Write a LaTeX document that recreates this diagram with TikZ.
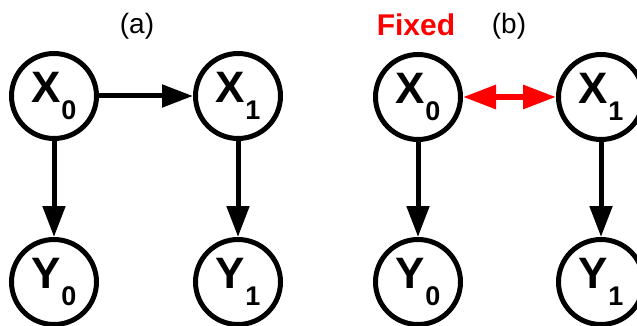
\documentclass[tikz,border=0pt]{standalone}
\usepackage{fontspec}
\setmainfont{Liberation Sans}
\usetikzlibrary{arrows.meta}
\definecolor{fixedred}{RGB}{255,0,0}
\newcommand{\vlab}[2]{\fontsize{44}{44}\selectfont\bfseries #1\kern0.5pt\lower17pt\hbox{\fontsize{27}{27}\selectfont\bfseries #2}}
\tikzset{
  var/.style={circle, draw=black, line width=5pt, minimum size=85pt, inner sep=0pt, fill=white},
  edge/.style={line width=5pt, -{Triangle[length=31pt,width=22pt]}},
  fixedge/.style={line width=6pt, draw=fixedred, {Triangle[length=33pt,width=23pt]}-{Triangle[length=33pt,width=23pt]}, fixedred},
  panel/.style={font=\fontsize{28}{28}\selectfont},
}
\begin{document}
\begin{tikzpicture}[x=1pt,y=-1pt]
\useasboundingbox (0,0) rectangle (637,326);
% panel (a)
\node[panel] (la) at (137,26.5) {(a)};
\node[var] (ax0) at (54,96) {\vlab{X}{0}};
\node[var] (ax1) at (238,96) {\vlab{X}{1}};
\node[var] (ay0) at (54,282) {\vlab{Y}{0}};
\node[var] (ay1) at (238,282) {\vlab{Y}{1}};
\draw[edge] (ax0) -- (ax1);
\draw[edge] (ax0) -- (ay0);
\draw[edge] (ax1) -- (ay1);
% panel (b)
\node[panel] (lb) at (509,26.5) {(b)};
\node[text=fixedred, font=\fontsize{30}{30}\selectfont\bfseries] (fx) at (416,24.5) {Fixed};
\node[var] (bx0) at (418,97) {\vlab{X}{0}};
\node[var] (bx1) at (601,97) {\vlab{X}{1}};
\node[var] (by0) at (418,282) {\vlab{Y}{0}};
\node[var] (by1) at (601,282) {\vlab{Y}{1}};
\draw[fixedge] (bx0) -- (bx1);
\draw[edge] (bx0) -- (by0);
\draw[edge] (bx1) -- (by1);
\end{tikzpicture}
\end{document}
